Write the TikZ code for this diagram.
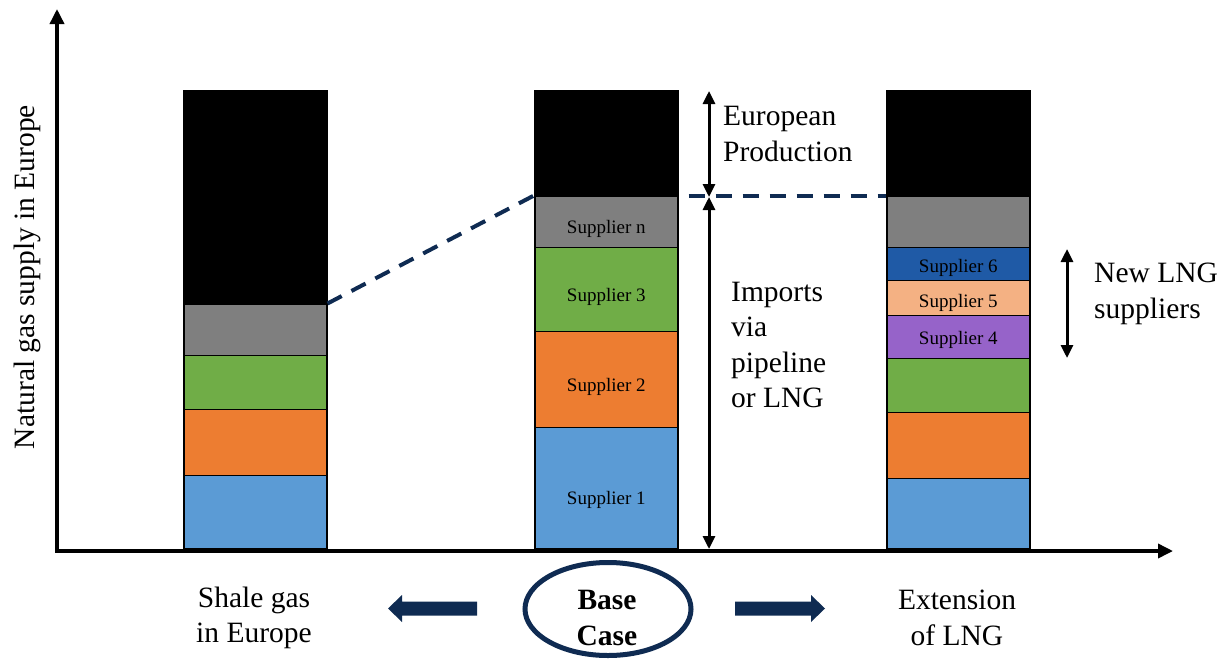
\documentclass[tikz,border=0pt]{standalone}
\usepackage{fontspec}
\setmainfont{Liberation Serif}
\usetikzlibrary{arrows.meta,shapes.geometric}
\definecolor{sblue}{HTML}{5B9BD5}
\definecolor{sorange}{HTML}{ED7D31}
\definecolor{sgreen}{HTML}{70AD47}
\definecolor{sgray}{HTML}{7F7F7F}
\definecolor{sdark}{HTML}{1F5AA6}
\definecolor{speach}{HTML}{F4B183}
\definecolor{spurple}{HTML}{9663C9}
\definecolor{navy}{HTML}{0F2B52}
\newcommand{\lowered}[2]{\raisebox{-#1}[13pt][4pt]{#2}}
\tikzset{
  seg/.style={draw=black, line width=1.5pt, inner sep=0pt, minimum width=143pt, anchor=south west,
    font=\fontsize{19}{22}\selectfont},
  axisline/.style={line width=3.5pt, -{Triangle[width=14pt,length=15pt]}},
  dblarrow/.style={line width=3pt, {Triangle[width=12pt,length=13pt]}-{Triangle[width=12pt,length=13pt]}},
  bigtext/.style={font=\fontsize{29.5}{35.5}\selectfont, inner sep=0pt},
  dashline/.style={draw=navy, line width=4pt, dash pattern=on 16pt off 11pt},
  blockarrow/.style={fill=navy, draw=none}
}
\begin{document}
\begin{tikzpicture}[x=1pt,y=-1pt]
\useasboundingbox (0,0) rectangle (1222,664);
% left bar
\node[seg, fill=sblue,   minimum height=73pt]  (L1) at (183,549) {};
\node[seg, fill=sorange, minimum height=66pt]  (L2) at (183,476) {};
\node[seg, fill=sgreen,  minimum height=54pt]  (L3) at (183,410) {};
\node[seg, fill=sgray,   minimum height=51pt]  (L4) at (183,356) {};
\node[seg, fill=black,   minimum height=214pt] (L5) at (183,305) {};
% middle bar
\node[seg, fill=sblue,   minimum height=121pt] (M1) at (534,549) {\lowered{12pt}{Supplier 1}};
\node[seg, fill=sorange, minimum height=96pt]  (M2) at (534,428) {\lowered{8pt}{Supplier 2}};
\node[seg, fill=sgreen,  minimum height=84pt]  (M3) at (534,332) {\lowered{8pt}{Supplier 3}};
\node[seg, fill=sgray,   minimum height=51pt]  (M4) at (534,248) {\lowered{7pt}{Supplier n}};
\node[seg, fill=black,   minimum height=106pt] (M5) at (534,197) {};
% right bar
\node[seg, fill=sblue,   minimum height=70pt]  (R1) at (886,549) {};
\node[seg, fill=sorange, minimum height=66pt]  (R2) at (886,479) {};
\node[seg, fill=sgreen,  minimum height=54pt]  (R3) at (886,413) {};
\node[seg, fill=spurple, minimum height=43pt]  (R4) at (886,359) {\lowered{3pt}{Supplier 4}};
\node[seg, fill=speach,  minimum height=35pt]  (R5) at (886,316) {\lowered{5pt}{Supplier 5}};
\node[seg, fill=sdark,   minimum height=33pt]  (R6) at (886,281) {\lowered{4pt}{Supplier 6}};
\node[seg, fill=sgray,   minimum height=51pt]  (R7) at (886,248) {};
\node[seg, fill=black,   minimum height=106pt] (R8) at (886,197) {};
% axes
\coordinate (origin) at (57,551);
\coordinate (ytop) at (57,9);
\coordinate (xend) at (1173,551);
\coordinate (xstart) at (55,551);
\draw[axisline] (57,552.75) -- (ytop);
\draw[axisline] (xstart) -- (xend);
\node[bigtext, rotate=90] (ylab) at (27,277) {Natural gas supply in Europe};
% dashed lines
\coordinate (dstart) at ([xshift=10pt]M4.north east);
\draw[dashline] (L4.north east) -- (M4.north west);
\draw[dashline] (dstart) -- (R7.north west);
% double arrows
\coordinate (epTop) at (709,91);
\coordinate (epMid) at (709,197);
\coordinate (epBot) at (709,549);
\draw[dblarrow] (epTop) -- (epMid);
\draw[dblarrow] (epMid) -- (epBot);
\coordinate (lngTop) at (1067,249);
\coordinate (lngBot) at (1067,358);
\draw[dblarrow] (lngTop) -- (lngBot);
% texts
\node[bigtext, anchor=west, align=left] (ep) at (723,134) {European\\Production};
\node[bigtext, anchor=west, align=left] (imp) at (731,345) {Imports\\via\\pipeline\\or LNG};
\node[bigtext, anchor=west, align=left] (newlng) at (1094,294) {New LNG\\suppliers};
\node[bigtext, align=center] (shale) at (254,618) {Shale gas\\in Europe};
\node[bigtext, align=center] (ext) at (957,618) {Extension\\of LNG};
% base case
\node[ellipse, draw=navy, line width=5pt, minimum width=166pt, minimum height=93pt, inner sep=0pt] (base) at (608,609) {};
\node[bigtext, align=center, font=\fontsize{29.5}{35.5}\selectfont\bfseries] (basetxt) at (607,618) {Base\\Case};
% block arrows
\fill[blockarrow] (477,601.5) -- (402,601.5) -- (402,595) -- (388,608.5) -- (402,622) -- (402,615.5) -- (477,615.5) -- cycle;
\fill[blockarrow] (735,601.5) -- (811,601.5) -- (811,595) -- (825,608.5) -- (811,622) -- (811,615.5) -- (735,615.5) -- cycle;
\end{tikzpicture}
\end{document}
